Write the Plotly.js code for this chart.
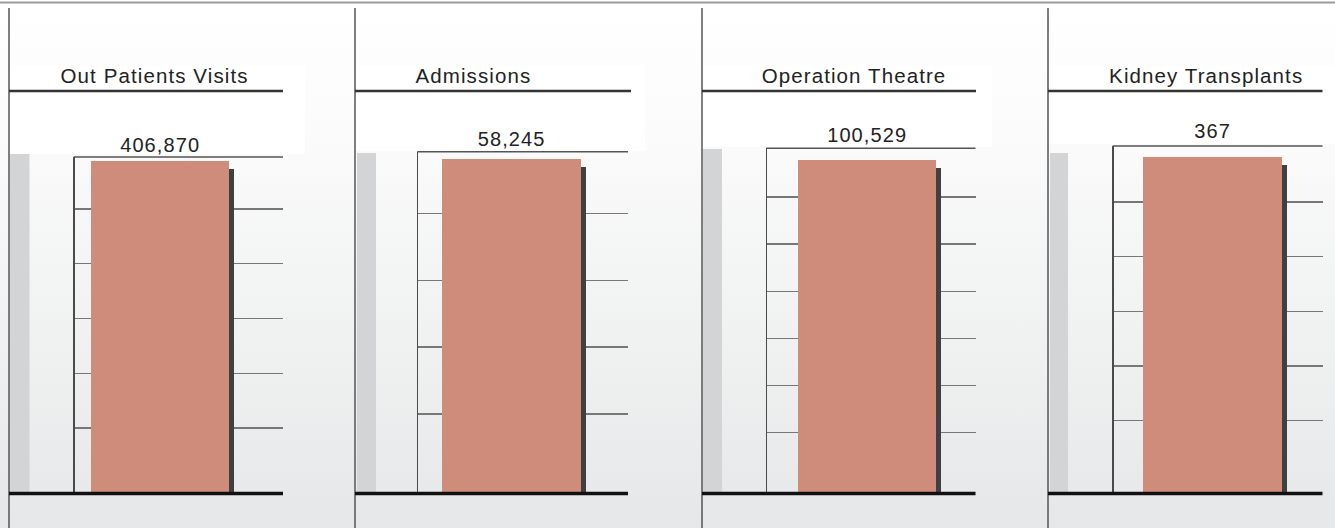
<!DOCTYPE html>
<html><head><meta charset="utf-8">
<script src="https://cdn.plot.ly/plotly-3.0.1.min.js"></script>
<style>
html,body{margin:0;padding:0;background:#fff;}
#chart{width:1335px;height:528px;background:linear-gradient(to bottom,#ffffff 0%,#fbfbfb 25%,#f1f2f2 60%,#e6e7e8 100%);}
#chart .bars path{filter:drop-shadow(5px 8px 0 #3f4042);}
#chart .annotation-text{letter-spacing:1.1px;}
</style></head><body><div id="chart"></div>
<script>
// ---- data ----
const categories = ["Out Patients Visits", "Admissions", "Operation Theatre", "Kidney Transplants"];
const values = [406870, 58245, 100529, 367];
const valueLabels = values.map(v => v.toLocaleString('en-US'));

// ---- layout geometry (pixels) ----
const W = 1335, H = 528;
const px = x => x / W, py = y => 1 - y / H;
const base = 493;
const sep = [9, 355, 702, 1048];
const axisLeft = [74.5, 418, 767, 1113.5];
const axisRight = [283, 628, 975.5, 1322.5];
const titleRight = [283, 631, 976, 1322.5];
const axisTop = [157, 151.7, 148.3, 146];
const barTop = [161.3, 159, 160, 157.3];
const barL = [90.7, 441.7, 797.7, 1143.3];
const barR = [229, 580.7, 936, 1282];
const firstGrid = [65, 79, 60.5, 72.5];
const gridStep = [54.75, 66.9, 47.1, 54.6];
const gridCount = [5, 4, 6, 5];
const stripX = [[10, 29.5], [357, 376], [703, 722], [1050, 1068]];
const stripTop = [154, 153, 149, 153];
const boxX = [[9, 305], [355, 645], [702, 992], [1048, 1335]];
const boxY = [[65, 154], [65, 151], [65, 147], [65, 144]];
const titleX = [154, 473, 854, 1205.5];
const titleY = 75.5;
const valueY = [145, 138.5, 134.5, 131];

const FONT = "'Liberation Sans', Arial, Helvetica, sans-serif";
const traces = [];
const layout = {
  width: W, height: H,
  margin: {l: 0, r: 0, t: 0, b: 0},
  paper_bgcolor: 'rgba(0,0,0,0)',
  plot_bgcolor: 'rgba(0,0,0,0)',
  showlegend: false,
  bargap: 0,
  font: {family: FONT, color: '#222'},
  shapes: [],
  annotations: []
};

// top border
layout.shapes.push({type: 'line', xref: 'paper', yref: 'paper', x0: 0, x1: 1, y0: py(2.5), y1: py(2.5),
  line: {color: '#9c9c9c', width: 2}, layer: 'below'});

categories.forEach((cat, i) => {
  const n = i === 0 ? '' : String(i + 1);
  const xa = 'xaxis' + n, ya = 'yaxis' + n;
  const span = base - axisTop[i];
  const barH = base - barTop[i];
  const ymax = values[i] * span / barH;
  const ppu = barR[i] - barL[i];
  const center = (barL[i] + barR[i]) / 2;
  const xL = -(center - axisLeft[i]) / ppu;
  const xR = (axisRight[i] - center) / ppu;
  const tv = [];
  for (let k = 0; k < gridCount[i]; k++) tv.push(ymax * (firstGrid[i] + k * gridStep[i]) / span);

  traces.push({
    type: 'bar', x: [0], y: [values[i]], width: 1,
    xaxis: 'x' + n, yaxis: 'y' + n,
    marker: {color: '#d08c7a', line: {width: 0}},
    hoverinfo: 'skip', name: cat
  });

  layout[xa] = {
    domain: [px(axisLeft[i]), px(axisRight[i])], anchor: 'y' + n,
    range: [xL, xR], showgrid: false, zeroline: false, showline: false,
    showticklabels: false, ticks: '', fixedrange: true
  };
  layout[ya] = {
    domain: [py(base), py(axisTop[i])], anchor: 'x' + n,
    range: [0, ymax], showgrid: true, gridcolor: '#777777', gridwidth: 1.4,
    tickmode: 'array', tickvals: tv,
    zeroline: false, showline: true, linecolor: '#4a4a4a', linewidth: 1.5,
    showticklabels: false, ticks: '', fixedrange: true
  };

  // white title box
  layout.shapes.push({type: 'rect', xref: 'paper', yref: 'paper', layer: 'below',
    x0: px(boxX[i][0]), x1: px(boxX[i][1]), y0: py(boxY[i][1]), y1: py(boxY[i][0]),
    fillcolor: '#ffffff', line: {width: 0}});
  // gray strip
  layout.shapes.push({type: 'rect', xref: 'paper', yref: 'paper', layer: 'below',
    x0: px(stripX[i][0]), x1: px(stripX[i][1]), y0: py(base), y1: py(stripTop[i]),
    fillcolor: '#d3d4d6', line: {width: 0}});
  // separator
  layout.shapes.push({type: 'line', xref: 'paper', yref: 'paper', layer: 'above',
    x0: px(sep[i]), x1: px(sep[i]), y0: py(8), y1: 0,
    line: {color: '#555555', width: 1.5}});
  // title underline
  layout.shapes.push({type: 'line', xref: 'paper', yref: 'paper', layer: 'above',
    x0: px(sep[i]), x1: px(titleRight[i]), y0: py(91), y1: py(91),
    line: {color: '#333333', width: 2.5}});
  // axis top line
  layout.shapes.push({type: 'line', xref: 'paper', yref: 'paper', layer: 'above',
    x0: px(axisLeft[i] - 0.75), x1: px(axisRight[i]), y0: py(axisTop[i]), y1: py(axisTop[i]),
    line: {color: '#555555', width: 1.5}});
  // baseline
  layout.shapes.push({type: 'line', xref: 'paper', yref: 'paper', layer: 'above',
    x0: px(sep[i]), x1: px(axisRight[i]), y0: py(base + 0.5), y1: py(base + 0.5),
    line: {color: '#111111', width: 3.5}});

  // title
  layout.annotations.push({xref: 'paper', yref: 'paper', x: px(titleX[i]), y: py(titleY),
    xanchor: 'center', yanchor: 'middle', showarrow: false, text: cat,
    font: {family: FONT, size: 20.5, color: '#222222'}});
  // value
  layout.annotations.push({xref: 'x' + n, yref: 'paper', x: 0, y: py(valueY[i]),
    xanchor: 'center', yanchor: 'middle', showarrow: false, text: valueLabels[i],
    font: {family: FONT, size: 20, color: '#222222'}});
});

Plotly.newPlot('chart', traces, layout, {staticPlot: true, displayModeBar: false});
</script>
</body></html>
